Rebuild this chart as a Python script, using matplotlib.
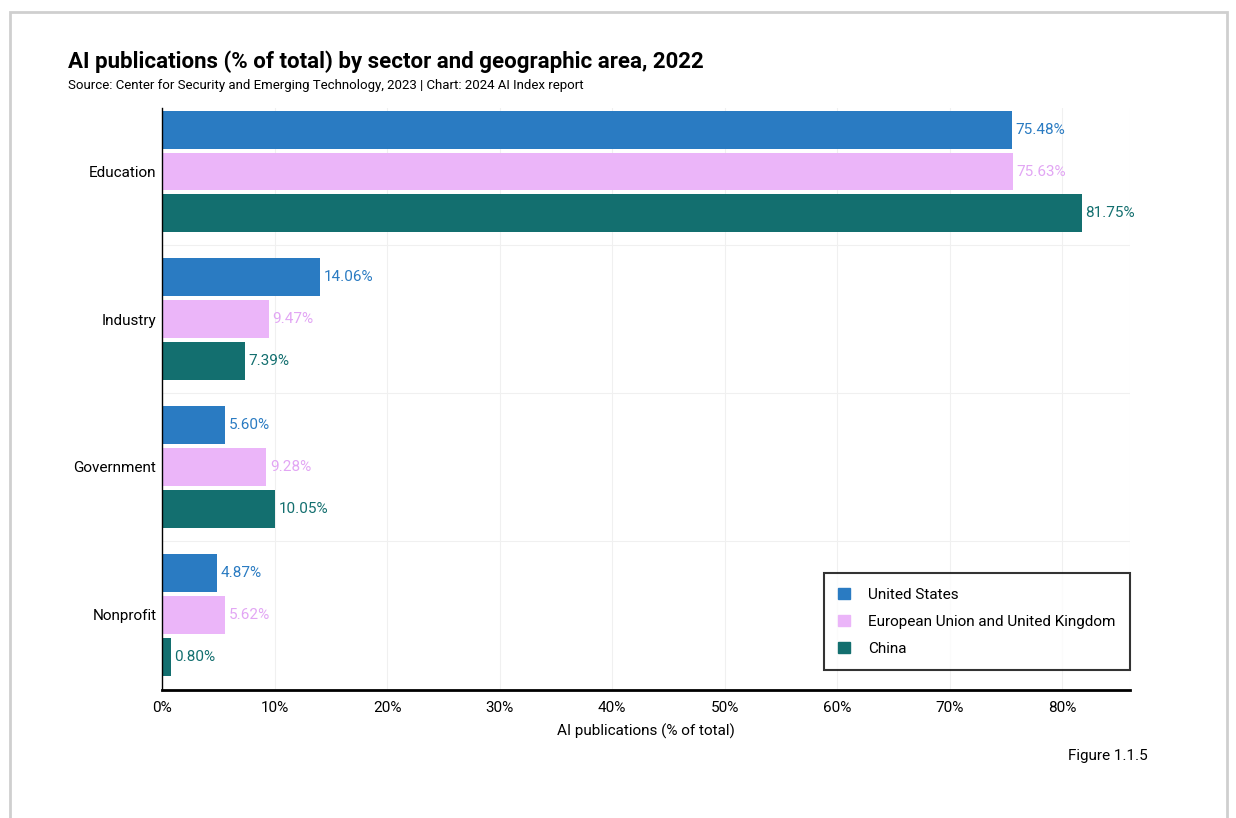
import numpy as np
import matplotlib.pyplot as plt
from matplotlib.patches import Rectangle, Patch

# sectors, top to bottom
sectors = ["Education", "Industry", "Government", "Nonprofit"]
regions = ["United States", "European Union and United Kingdom", "China"]
us = [75.48, 14.06, 5.60, 4.87]
eu_uk = [75.63, 9.47, 9.28, 5.62]
china = [81.75, 7.39, 10.05, 0.80]
xticks = [0, 10, 20, 30, 40, 50, 60, 70, 80]

COLORS = ["#2a7bc2", "#ebb5f9", "#136f6f"]
FONT = ["Roboto", "DejaVu Sans"]
plt.rcParams['font.family'] = FONT

fig = plt.figure(figsize=(12.36, 8.18), dpi=100)

# card background with a soft grey edge
card = Rectangle((0.008, -0.02), 0.985, 1.005, transform=fig.transFigure,
                 facecolor="white", edgecolor="#cfcfcf", linewidth=2.0, zorder=-10)
fig.patches.append(card)

ax = fig.add_axes([162 / 1236, 1 - 690 / 818, (1130 - 162) / 1236, (690 - 108) / 818])
ax.set_facecolor("none")

step = 42 / 148
height = 38 / 148
y = np.arange(len(sectors))
series = [us, eu_uk, china]
for i, (vals, col) in enumerate(zip(series, COLORS)):
    pos = y + (i - 1) * step
    ax.barh(pos, vals, height=height, color=col, zorder=2, label=regions[i])
    for p, v in zip(pos, vals):
        ax.text(v + 0.3, p, f"{v:.2f}%", va="center", ha="left",
                fontsize=11, color=col if i != 1 else "#e2a6f4", zorder=3)

ax.set_ylim(len(sectors) - 1 + 0.51, -0.43)
ax.set_xlim(0, 86)
ax.set_yticks(y)
ax.set_yticklabels(sectors, fontsize=11)
ax.set_xticks(xticks)
ax.set_xticklabels([f"{t}%" for t in xticks], fontsize=11)
ax.tick_params(length=0, pad=8)
ax.tick_params(axis="y", pad=4)

# faint grid
for t in xticks[1:] + [86]:
    ax.axvline(t, color="#f0f0f0", lw=0.8, zorder=0)
for b in y[:-1] + 0.5:
    ax.axhline(b, color="#f0f0f0", lw=0.8, zorder=0)

for s in ["top", "right"]:
    ax.spines[s].set_visible(False)
ax.spines["left"].set_linewidth(1.0)
ax.spines["bottom"].set_linewidth(2.0)

ax.set_xlabel("AI publications (% of total)", fontsize=11, labelpad=6)

leg = ax.legend(handles=[Patch(color=c, label=r) for c, r in zip(COLORS, regions)],
                loc="lower right", bbox_to_anchor=(1.0, 0.034), borderaxespad=0,
                fontsize=11, fancybox=False, edgecolor="black",
                handlelength=0.75, handleheight=0.75,
                borderpad=0.95, labelspacing=0.85, handletextpad=1.2)
leg.get_frame().set_linewidth(1.5)

fig.text(68 / 1236, 1 - 62 / 818, "AI publications (% of total) by sector and geographic area, 2022",
         fontsize=16, fontweight="bold", va="center", ha="left")
fig.text(68 / 1236, 1 - 86 / 818,
         "Source: Center for Security and Emerging Technology, 2023 | Chart: 2024 AI Index report",
         fontsize=9.5, va="center", ha="left")
fig.text(1148 / 1236, 1 - 756 / 818, "Figure 1.1.5", fontsize=11, va="center", ha="right")

fig.savefig("out.png", dpi=100)
